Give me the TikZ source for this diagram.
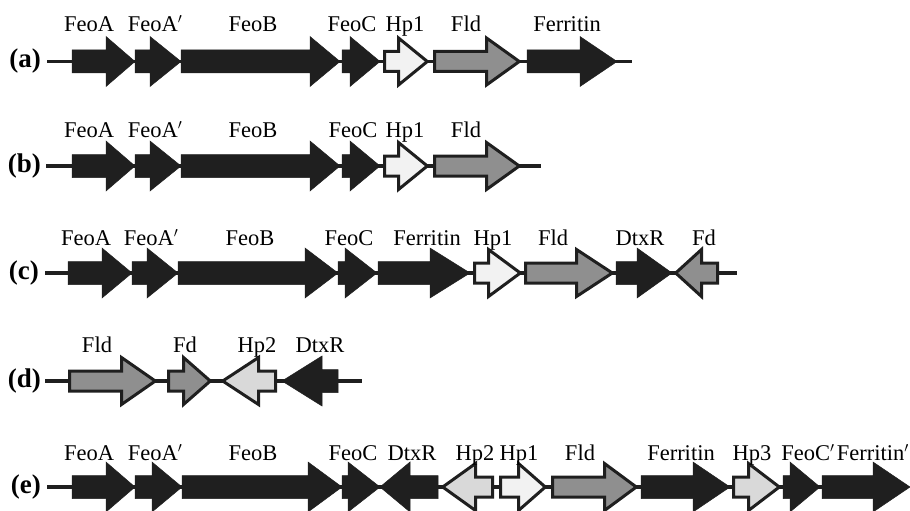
\documentclass[tikz,border=0pt]{standalone}
\usepackage{fontspec}
\setmainfont{Liberation Serif}
\definecolor{gblack}{HTML}{1F1F1F}
\definecolor{ggray}{HTML}{8F8F8F}
\definecolor{glight}{HTML}{F2F2F2}
\definecolor{glighttwo}{HTML}{D9D9D9}
\newcommand\bh{11.5}
\newcommand\hh{25}
% #1 style, #2 row y, #3 body end, #4 head base, #5 tip, #6 inset
\newcommand\genearrow[6]{%
  \pgfmathsetmacro\gd{#6*sign(#5-#3)}%
  \path[#1] ({#3+\gd},{#2-\bh+#6}) -- ({#4+\gd},{#2-\bh+#6}) -- ({#4+\gd},{#2-\hh+#6})
    -- ({#5-1.8*\gd},{#2}) -- ({#4+\gd},{#2+\hh-#6}) -- ({#4+\gd},{#2+\bh-#6})
    -- ({#3+\gd},{#2+\bh-#6}) -- cycle;}
\newcommand\gblk[4]{\genearrow{blk}{#1}{#2}{#3}{#4}{0}}
\newcommand\gout[5]{\genearrow{outl,fill=#1}{#2}{#3}{#4}{#5}{1.5}}
\tikzset{
  blk/.style={fill=gblack,draw=gblack,line width=0.5pt,line join=miter},
  outl/.style={draw=gblack,line width=3pt,line join=miter},
  backbone/.style={draw=gblack,line width=3.5pt},
  lbl/.style={anchor=base,inner sep=0pt,font=\fontsize{22.5}{26}\selectfont},
  rowlbl/.style={anchor=base east,inner sep=0pt,font=\bfseries\fontsize{27}{30}\selectfont}
}
\begin{document}
\begin{tikzpicture}[x=1pt,y=-1pt]
\useasboundingbox (0,0) rectangle (910,511);
% ---------- row (a) ----------
\def\ya{61.5}
\node[rowlbl] (ra) at (41,\ya+6) {(a)};
\coordinate (a0) at (47,\ya); \coordinate (a1) at (632,\ya);
\draw[backbone] (a0) -- (a1);
\gblk{\ya}{72}{106}{135}
\gblk{\ya}{135}{150}{181}
\gblk{\ya}{181}{310}{340}
\gblk{\ya}{342}{350}{380}
\gout{glight}{\ya}{383}{397}{430}
\gout{ggray}{\ya}{433}{485}{522}
\gblk{\ya}{527}{580}{617}
\node[lbl] (aA) at (89,\ya-30) {FeoA};
\node[lbl] (aA2) at (155,\ya-30) {FeoA$'$};
\node[lbl] (aB) at (253,\ya-30) {FeoB};
\node[lbl] (aC) at (352,\ya-30) {FeoC};
\node[lbl] (aH1) at (405,\ya-30) {Hp1};
\node[lbl] (aF) at (466,\ya-30) {Fld};
\node[lbl] (aFe) at (567,\ya-30) {Ferritin};
% ---------- row (b) ----------
\def\yb{166}
\node[rowlbl] (rb) at (41,\yb+6) {(b)};
\coordinate (b0) at (46,\yb); \coordinate (b1) at (541,\yb);
\draw[backbone] (b0) -- (b1);
\gblk{\yb}{72}{106}{135}
\gblk{\yb}{135}{150}{181}
\gblk{\yb}{181}{310}{340}
\gblk{\yb}{342}{350}{380}
\gout{glight}{\yb}{383}{397}{430}
\gout{ggray}{\yb}{433}{485}{522}
\node[lbl] (bA) at (89,\yb-29) {FeoA};
\node[lbl] (bA2) at (155,\yb-29) {FeoA$'$};
\node[lbl] (bB) at (253,\yb-29) {FeoB};
\node[lbl] (bC) at (353,\yb-29) {FeoC};
\node[lbl] (bH1) at (405,\yb-29) {Hp1};
\node[lbl] (bF) at (466,\yb-29) {Fld};
% ---------- row (c) ----------
\def\yc{273}
\node[rowlbl] (rc) at (39,\yc+6) {(c)};
\coordinate (c0) at (45,\yc); \coordinate (c1) at (737,\yc);
\draw[backbone] (c0) -- (c1);
\gblk{\yc}{68}{102}{132}
\gblk{\yc}{132}{147}{178}
\gblk{\yc}{178}{305}{338}
\gblk{\yc}{338}{345}{377}
\gblk{\yc}{378}{430}{470}
\gout{glight}{\yc}{473}{487}{523}
\gout{ggray}{\yc}{524}{575}{615}
\gblk{\yc}{616}{637}{672}
\gout{ggray}{\yc}{719}{703}{673}
\node[lbl] (cA) at (86,\yc-28) {FeoA};
\node[lbl] (cA2) at (151,\yc-28) {FeoA$'$};
\node[lbl] (cB) at (250,\yc-28) {FeoB};
\node[lbl] (cC) at (349,\yc-28) {FeoC};
\node[lbl] (cFe) at (427,\yc-28) {Ferritin};
\node[lbl] (cH1) at (493,\yc-28) {Hp1};
\node[lbl] (cF) at (553,\yc-28) {Fld};
\node[lbl] (cD) at (640,\yc-28) {DtxR};
\node[lbl] (cFd) at (704,\yc-28) {Fd};
% ---------- row (d) ----------
\def\yd{381}
\node[rowlbl] (rd) at (41,\yd+6) {(d)};
\coordinate (d0) at (45,\yd); \coordinate (d1) at (362,\yd);
\draw[backbone] (d0) -- (d1);
\gout{ggray}{\yd}{68}{120}{158}
\gout{ggray}{\yd}{167}{182}{213}
\gout{glighttwo}{\yd}{277}{260}{220}
\gblk{\yd}{338}{322}{282}
\node[lbl] (dF) at (97,\yd-29) {Fld};
\node[lbl] (dFd) at (185,\yd-29) {Fd};
\node[lbl] (dH2) at (257,\yd-29) {Hp2};
\node[lbl] (dD) at (320,\yd-29) {DtxR};
% ---------- row (e) ----------
\def\ye{487}
\node[rowlbl] (re) at (41,\ye+6) {(e)};
\coordinate (e0) at (47,\ye); \coordinate (e1) at (880,\ye);
\draw[backbone] (e0) -- (e1);
\gblk{\ye}{72}{106}{135}
\gblk{\ye}{135}{152}{182}
\gblk{\ye}{182}{308}{342}
\gblk{\ye}{342}{348}{380}
\gblk{\ye}{438}{410}{380}
\gout{glighttwo}{\ye}{494}{477}{440}
\gout{glight}{\ye}{499}{517}{548}
\gout{ggray}{\ye}{551}{603}{639}
\gblk{\ye}{641}{693}{730}
\gout{glighttwo}{\ye}{732}{747}{782}
\gblk{\ye}{783}{790}{820}
\gblk{\ye}{822}{873}{910}
\node[lbl] (eA) at (89,\ye-27) {FeoA};
\node[lbl] (eA2) at (155,\ye-27) {FeoA$'$};
\node[lbl] (eB) at (253,\ye-27) {FeoB};
\node[lbl] (eC) at (353,\ye-27) {FeoC};
\node[lbl] (eD) at (412,\ye-27) {DtxR};
\node[lbl] (eH2) at (475,\ye-27) {Hp2};
\node[lbl] (eH1) at (519,\ye-27) {Hp1};
\node[lbl] (eF) at (580,\ye-27) {Fld};
\node[lbl] (eFe) at (681,\ye-27) {Ferritin};
\node[lbl] (eH3) at (752,\ye-27) {Hp3};
\node[lbl] (eC2) at (808,\ye-27) {FeoC$'$};
\node[lbl,anchor=base east] (eFe2) at (909,\ye-27) {Ferritin$'$};
\end{tikzpicture}
\end{document}
